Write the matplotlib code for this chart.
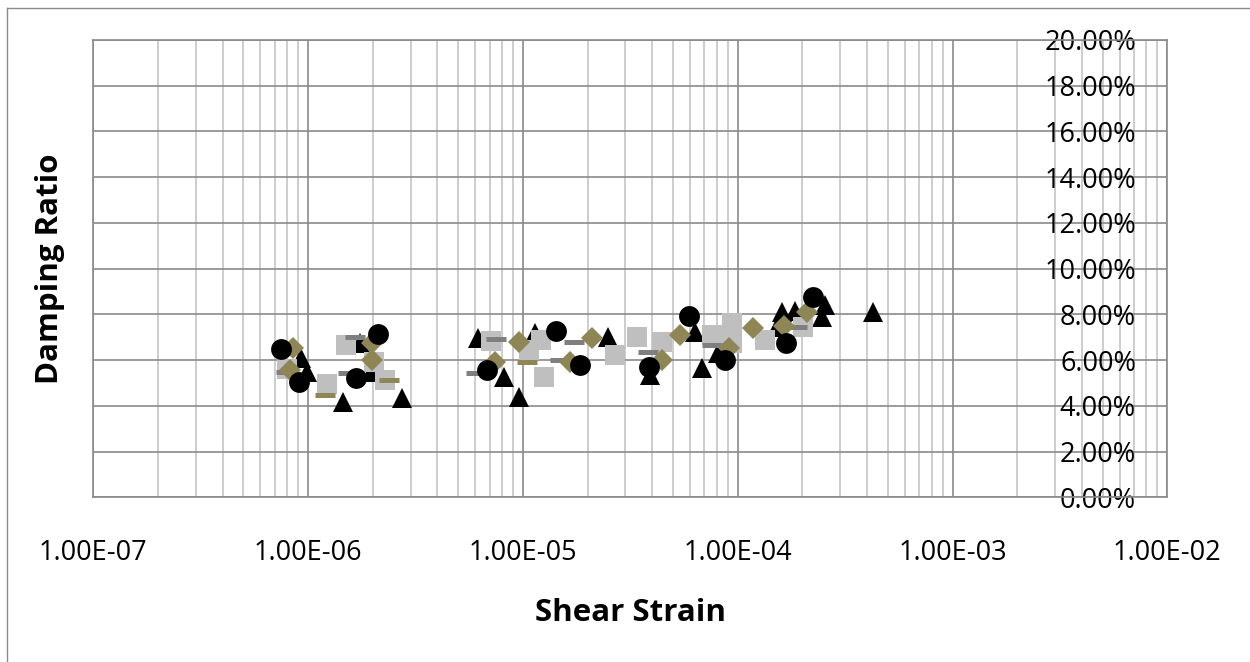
import matplotlib

matplotlib.use("Agg")
import matplotlib.pyplot as plt
from matplotlib.lines import Line2D
from matplotlib.ticker import FixedLocator, FuncFormatter, LogLocator, NullFormatter

plt.rcParams["font.family"] = ["Open Sans", "DejaVu Sans"]

# Shear strain / damping ratio pairs, one list pair per marker series
tri_strain = [9.24e-7, 9.9e-7, 1.46e-6, 1.75e-6, 1.97e-6, 2.73e-6, 6.16e-6, 8.2e-6,
              9.6e-6, 1.14e-5, 2.48e-5, 3.9e-5, 6.33e-5, 6.8e-5, 8.1e-5, 1.52e-4,
              1.6e-4, 1.85e-4, 2.46e-4, 2.55e-4, 4.28e-4]
tri_damping = [6.09, 5.49, 4.18, 6.75, 5.5, 4.33, 6.95, 5.27,
               4.4, 7.17, 7.0, 5.35, 7.24, 5.64, 6.3, 7.46,
               8.12, 8.16, 7.9, 8.41, 8.12]

sq_strain = [8.0e-7, 1.22e-6, 1.5e-6, 2.03e-6, 2.28e-6, 7.1e-6, 1.07e-5, 1.21e-5,
             1.25e-5, 2.67e-5, 3.41e-5, 4.43e-5, 7.57e-5, 9.37e-5, 9.37e-5, 1.34e-4,
             2.02e-4]
sq_damping = [5.6, 4.95, 6.66, 5.92, 5.13, 6.85, 6.44, 6.88,
              5.27, 6.22, 7.0, 6.8, 7.1, 7.61, 6.73, 6.88,
              7.46]

gdash_strain = [7.9e-7, 1.54e-6, 1.65e-6, 6.03e-6, 7.47e-6, 1.49e-5, 1.73e-5, 3.84e-5,
                7.57e-5, 1.88e-4]
gdash_damping = [5.46, 5.44, 7.0, 5.42, 6.91, 6.0, 6.8, 6.37,
                 6.66, 7.43]

dia_strain = [8.54e-7, 8.24e-7, 1.98e-6, 1.98e-6, 7.4e-6, 9.6e-6, 1.66e-5, 2.09e-5,
              4.43e-5, 5.39e-5, 9.14e-5, 1.18e-4, 1.65e-4, 2.1e-4]
dia_damping = [6.51, 5.57, 6.75, 6.0, 5.93, 6.8, 5.93, 6.95,
               6.0, 7.1, 6.51, 7.39, 7.5, 8.12]

odash_strain = [1.2e-6, 2.39e-6, 1.04e-5]
odash_damping = [4.47, 5.13, 5.93]

circ_strain = [7.45e-7, 9.1e-7, 1.68e-6, 2.12e-6, 6.83e-6, 1.43e-5, 1.85e-5, 3.88e-5,
               5.96e-5, 8.73e-5, 1.68e-4, 2.25e-4]
circ_damping = [6.48, 5.05, 5.2, 7.14, 5.57, 7.29, 5.78, 5.71,
                7.93, 6.0, 6.73, 8.77]

x_ticks = [1e-7, 1e-6, 1e-5, 1e-4, 1e-3, 1e-2]
y_ticks = [0.0, 0.02, 0.04, 0.06, 0.08, 0.10, 0.12, 0.14, 0.16, 0.18, 0.20]

OLIVE = "#8f8656"
LIGHT = "#bfbfbf"
DARK = "#7f7f7f"
GRID = "#8a8a8a"
MINOR = "#c0c0c0"

W, H = 1250, 662
fig = plt.figure(figsize=(W / 100, H / 100), dpi=100)

# chart area border (left and top edges visible)
fig.add_artist(Line2D([7 / W, 7 / W], [0, 1 - 8 / H], color=GRID, lw=1.0))
fig.add_artist(Line2D([7 / W, 1], [1 - 8 / H, 1 - 8 / H], color=GRID, lw=1.0))

left, top, right, bottom = 93.3, 40.0, 1167.3, 497.3
ax = fig.add_axes([left / W, 1 - bottom / H, (right - left) / W, (bottom - top) / H])
ax.set_xscale("log")
ax.set_xlim(x_ticks[0], x_ticks[-1])
ax.set_ylim(y_ticks[0], y_ticks[-1])

ax.xaxis.set_major_locator(FixedLocator(x_ticks))
ax.xaxis.set_minor_locator(LogLocator(base=10, subs=range(2, 10), numticks=20))
ax.xaxis.set_minor_formatter(NullFormatter())
ax.xaxis.set_major_formatter(FuncFormatter(lambda v, _: f"{v:.2E}"))
ax.yaxis.set_major_locator(FixedLocator(y_ticks))
ax.yaxis.set_major_formatter(FuncFormatter(lambda v, _: f"{v * 100:.2f}%"))

ax.grid(True, which="minor", axis="x", color=MINOR, lw=1.1, zorder=0)
ax.grid(True, which="major", axis="x", color=GRID, lw=1.2, zorder=0)
ax.grid(True, which="major", axis="y", color=GRID, lw=1.2, zorder=0)
ax.set_axisbelow(True)

for sp in ax.spines.values():
    sp.set_color(GRID)
    sp.set_linewidth(1.2)

ax.tick_params(axis="x", which="both", length=0, pad=30, labelsize=19.5)
# value axis labels sit near the right end of the plot area
ax.tick_params(axis="y", which="both", length=0, pad=-(1136 - left) * 0.72, labelsize=19.5)

ax.plot(tri_strain, [v / 100 for v in tri_damping], ls="none", marker="^",
        ms=15, color="black", mew=0, zorder=3)
ax.plot(sq_strain, [v / 100 for v in sq_damping], ls="none", marker="s",
        ms=15, color=LIGHT, mew=0, zorder=4)
ax.plot(gdash_strain, [v / 100 for v in gdash_damping], ls="none", marker="_",
        ms=14.5, mec=DARK, mew=3.6, zorder=5)
ax.plot(dia_strain, [v / 100 for v in dia_damping], ls="none", marker="D",
        ms=11.5, color=OLIVE, mew=0, zorder=6)
ax.plot(odash_strain, [v / 100 for v in odash_damping], ls="none", marker="_",
        ms=14.5, mec=OLIVE, mew=3.6, zorder=7)
ax.plot(circ_strain, [v / 100 for v in circ_damping], ls="none", marker="o",
        ms=15, color="black", mew=0, zorder=8)

ax.set_xlabel("Shear Strain", fontsize=22.5, fontweight="bold", labelpad=22)
ax.set_ylabel("Damping Ratio", fontsize=22.5, fontweight="bold", labelpad=8)
ax.yaxis.set_label_coords((65 - left) / (right - left), 0.5)

fig.savefig("out.png", dpi=100)
